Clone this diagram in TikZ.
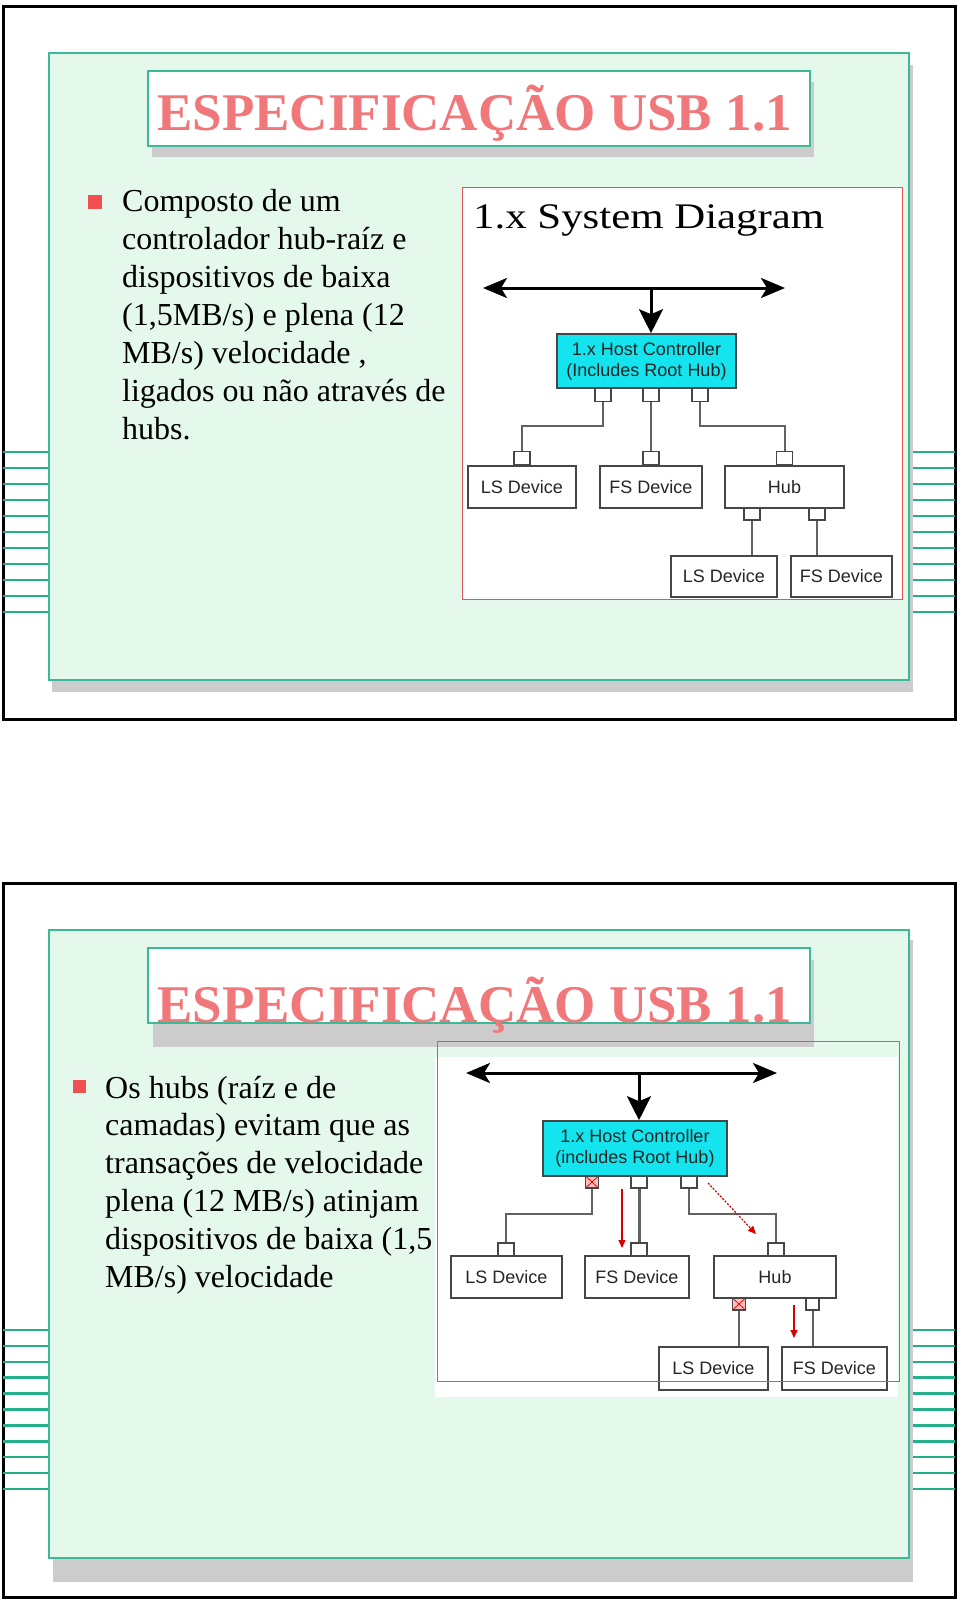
\documentclass[tikz,border=0pt]{standalone}
\usepackage{fontspec}
\usepackage{graphicx}
\setmainfont{Liberation Serif}
\newfontfamily\diagfont{Liberation Sans}
\usetikzlibrary{arrows.meta,positioning,calc}

\definecolor{panelGreen}{RGB}{228,248,236}
\definecolor{panelLine}{RGB}{60,185,150}
\definecolor{stripeGreen}{RGB}{35,175,135}
\definecolor{titleRed}{RGB}{240,120,122}
\definecolor{bulletRed}{RGB}{240,80,80}
\definecolor{shadowGray}{RGB}{204,204,204}
\definecolor{frameRed}{RGB}{225,85,85}
\definecolor{hostCyan}{RGB}{20,228,238}
\definecolor{boxGray}{RGB}{70,70,70}

\newcommand*{\xOut}{3}
\newcommand*{\xPanel}{49}
\newcommand*{\xPanelR}{909}
\newcommand*{\xOutR}{955}

\begin{document}
\begin{tikzpicture}[x=1pt,y=-1pt,
	slideframe/.style={draw=black,line width=3pt},
	panel/.style={fill=panelGreen,draw=panelLine,line width=1.5pt},
	shade/.style={fill=shadowGray},
	stripe/.style={draw=stripeGreen,line width=2.5pt},
	titlebox/.style={fill=white,draw=panelLine,line width=1.5pt},
	titletext/.style={inner sep=0pt,anchor=base west,text=titleRed,font=\fontsize{53}{60}\selectfont\bfseries},
	bodytext/.style={inner sep=0pt,anchor=base west,font=\fontsize{32}{38}\selectfont},
	bullet/.style={fill=bulletRed,inner sep=0pt,minimum size=14pt},
	diagframe/.style={draw=frameRed,line width=1pt},
	dev/.style={draw=boxGray,fill=white,line width=1.6pt,font=\diagfont\fontsize{18}{21}\selectfont,text=black!85,inner sep=0pt},
	host/.style={dev,fill=hostCyan,align=center},
	port/.style={draw=boxGray,fill=white,line width=1.3pt,minimum width=16pt,minimum height=13pt,inner sep=0pt},
	deadport/.style={port,fill=red!25,path picture={\draw[red,line width=0.8pt] (path picture bounding box.south west) -- (path picture bounding box.north east) (path picture bounding box.north west) -- (path picture bounding box.south east);}},
	wire/.style={draw=black!62,line width=2pt},
	bus/.style={line width=3pt,{Stealth[length=24pt,width=20pt,inset=6pt]}-{Stealth[length=24pt,width=20pt,inset=6pt]}},
	feed/.style={line width=3pt,-{Stealth[length=24pt,width=24pt,inset=5pt]}},
	flow/.style={draw=red!85!black,line width=1.2pt,-{Triangle[length=8pt,width=7pt]}}
]
	\useasboundingbox (0,0) rectangle (960,1601);
	\fill[white] (0,0) rectangle (960,1601);

	% ---------- slide 1 ----------
	\draw[slideframe] (\xOut,6) rectangle (\xOutR,719);
	\foreach \k in {0,...,10} {
		\draw[stripe] (\xOut,452+16*\k) -- (\xPanel,452+16*\k);
		\draw[stripe] (\xPanelR,452+16*\k) -- (\xOutR,452+16*\k);
	}
	\fill[shade] (52,65) rectangle (913,692);
	\draw[panel] (\xPanel,53) rectangle (\xPanelR,680);
	\fill[shade] (152,82) rectangle (814,157);
	\draw[titlebox] (148,71) rectangle (810,146);
	\node[titletext] (titleA) at (157,130) {ESPECIFICAÇÃO USB 1.1};

	\node[bullet] (dotA) at (95,202) {};
	\foreach \txt [count=\i from 0] in {Composto de um, controlador hub-raíz e, dispositivos de baixa, {(1,5MB/s) e plena (12}, {MB/s) velocidade ,}, ligados ou não através de, hubs.}
		\node[bodytext] (introA\i) at (122,211+38*\i) {\txt};

	% diagram 1
	\draw[diagframe,fill=white] (462,187) rectangle (902,599);
	\node[inner sep=0pt,anchor=base west,font=\fontsize{36}{40}\selectfont] (diagTitle) at (473,228) {\scalebox{1.19}[1]{1.x System Diagram}};

	\node[host,minimum width=179pt,minimum height=54pt] (hostA) at (646.5,361) {1.x Host Controller\\(Includes Root Hub)};
	\node[port] (hA1) at (603,395) {};
	\node[port] (hA2) at (651,395) {};
	\node[port] (hA3) at (700,395) {};

	\node[dev,minimum width=108pt,minimum height=42pt] (lsA) at (522,487) {LS Device};
	\node[dev,minimum width=102pt,minimum height=42pt] (fsA) at (651,487) {FS Device};
	\node[dev,minimum width=119pt,minimum height=42pt] (hubA) at (784.5,487) {Hub};
	\node[port,above=0pt of lsA] (lsAp) {};
	\node[port,above=0pt of fsA] (fsAp) {};
	\node[port,above=0pt of hubA] (hubAp) {};
	\node[port,minimum height=12pt] (hubAq1) at (752,514) {};
	\node[port,minimum height=12pt] (hubAq2) at (817,514) {};

	\node[dev,minimum width=106pt,minimum height=41pt] (lsB) at (724,576.5) {LS Device};
	\node[dev,minimum width=101pt,minimum height=41pt] (fsB) at (841.5,576.5) {FS Device};

	\coordinate (busAL) at (483,288);
	\coordinate (busAR) at (785,288);
	\coordinate (busAT) at (651,288);
	\draw[bus] (busAL) -- (busAR);
	\draw[feed] (busAT) -- (busAT |- hostA.north);

	\draw[wire] (hA1.south) -- ++(0,24) -| (lsAp.north);
	\draw[wire] (hA2.south) -- (fsAp.north);
	\draw[wire] (hA3.south) -- ++(0,24) -| (hubAp.north);
	\draw[wire] (hubAq1.south) -- (hubAq1.south |- lsB.north);
	\draw[wire] (hubAq2.south) -- (hubAq2.south |- fsB.north);

	% ---------- slide 2 ----------
	\draw[slideframe] (\xOut,883) rectangle (\xOutR,1597);
	\foreach \k in {0,...,10} {
		\draw[stripe] (\xOut,1330+15.9*\k) -- (\xPanel,1330+15.9*\k);
		\draw[stripe] (\xPanelR,1330+15.9*\k) -- (\xOutR,1330+15.9*\k);
	}
	\fill[shade] (53,940) rectangle (913,1582);
	\draw[panel] (\xPanel,930) rectangle (\xPanelR,1558);
	\fill[shade] (153,960) rectangle (814,1047);
	\draw[titlebox] (148,948) rectangle (810,1023);
	\node[titletext] (titleB) at (157,1022) {ESPECIFICAÇÃO USB 1.1};

	\node[bullet,minimum size=13pt] (dotB) at (79.5,1086.5) {};
	\foreach \txt [count=\i from 0] in {Os hubs (raíz e de, camadas) evitam que as, transações de velocidade, plena (12 MB/s) atinjam, {dispositivos de baixa (1,5}, MB/s) velocidade}
		\node[bodytext] (introB\i) at (105,1098+37.8*\i) {\txt};

	% diagram 2
	\fill[white] (435,1057) rectangle (898,1397);

	\node[host,minimum width=184pt,minimum height=55pt] (hostB) at (635,1148.5) {1.x Host Controller\\(includes Root Hub)};
	\node[deadport,minimum width=13pt,minimum height=12pt] (hB1) at (592,1182) {};
	\node[port,minimum height=12pt] (hB2) at (639,1182) {};
	\node[port,minimum height=12pt] (hB3) at (689,1182) {};

	\node[dev,minimum width=111pt,minimum height=42pt] (lsC) at (506.5,1277) {LS Device};
	\node[dev,minimum width=104pt,minimum height=42pt] (fsC) at (637,1277) {FS Device};
	\node[dev,minimum width=122pt,minimum height=42pt] (hubC) at (775,1277) {Hub};
	\node[port] (lsCp) at (506,1249.5) {};
	\node[port] (fsCp) at (639,1249.5) {};
	\node[port] (hubCp) at (776,1249.5) {};
	\node[deadport,minimum width=13pt,minimum height=12pt] (hubCq1) at (739,1304) {};
	\node[port,minimum width=13pt,minimum height=12pt] (hubCq2) at (812.5,1304) {};

	\node[dev,minimum width=109pt,minimum height=43pt] (lsD) at (713.5,1368.5) {LS Device};
	\node[dev,minimum width=105pt,minimum height=43pt] (fsD) at (834.5,1368.5) {FS Device};

	\coordinate (busBL) at (466,1073);
	\coordinate (busBR) at (777,1073);
	\coordinate (busBT) at (639,1073);
	\draw[bus] (busBL) -- (busBR);
	\draw[feed] (busBT) -- (busBT |- hostB.north);

	\draw[wire] (hB1.south) -- ++(0,25) -| (lsCp.north);
	\draw[wire,line width=3pt] (hB2.south) -- (fsCp.north);
	\draw[wire] (hB3.south) -- ++(0,25) -| (hubCp.north);
	\draw[wire] (hubCq1.south) -- (hubCq1.south |- lsD.north);
	\draw[wire] (hubCq2.south) -- (hubCq2.south |- fsD.north);

	% blocked full speed traffic
	\coordinate (flowAs) at (622,1189);
	\coordinate (flowAe) at (622,1248);
	\coordinate (flowBs) at (708,1183);
	\coordinate (flowBe) at (756,1234);
	\coordinate (flowCs) at (794,1305);
	\coordinate (flowCe) at (794,1338);
	\draw[flow] (flowAs) -- (flowAe);
	\draw[flow,dash pattern=on 2pt off 1.5pt] (flowBs) -- (flowBe);
	\draw[flow] (flowCs) -- (flowCe);

	\draw[diagframe] (437,1041) rectangle (899,1381);
\end{tikzpicture}
\end{document}
